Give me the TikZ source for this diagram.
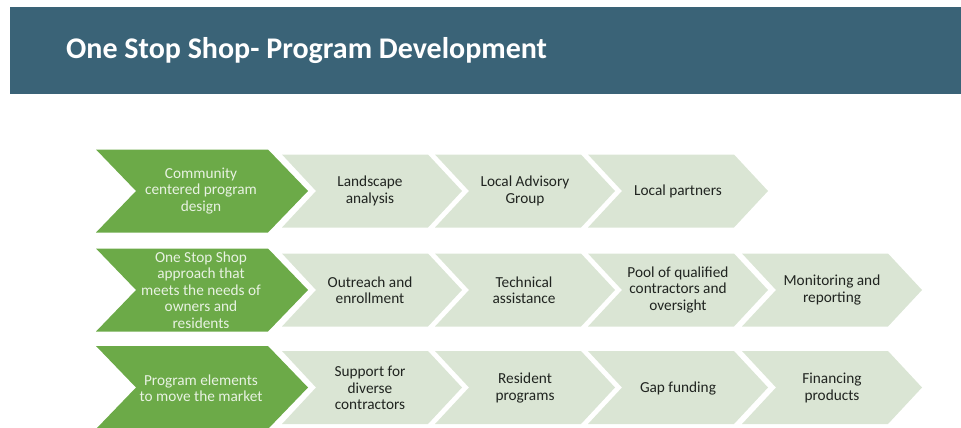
\documentclass[tikz,border=0pt]{standalone}
\usepackage{fontspec}
\setmainfont{Carlito}
\definecolor{barblue}{RGB}{58,99,119}
\definecolor{chevgreen}{RGB}{108,170,72}
\definecolor{chevlight}{RGB}{218,229,212}
\definecolor{greentext}{RGB}{232,242,226}
\definecolor{darktext}{RGB}{32,36,32}
\newcommand\chevshape[6]{%
  \fill[#1] (#2,#3) -- ++(#4,0) -- ++(#6,#5/2) -- ++(-#6,#5/2) -- ++(-#4,0) -- ++(#6,-#5/2) -- cycle;}
\tikzset{
  titletext/.style={text=white,font=\fontsize{30}{34}\selectfont\bfseries,anchor=base west,inner sep=0},
  greenlbl/.style={text=greentext,align=center,font=\fontsize{15.3}{16.4}\selectfont,inner sep=0},
  lightlbl/.style={text=darktext,align=center,font=\fontsize{15.3}{16.4}\selectfont,inner sep=0},
  greenchev/.style={fill=chevgreen},
  lightchev/.style={fill=chevlight}
}
\begin{document}
\begin{tikzpicture}[x=1pt,y=-1pt]
\useasboundingbox (0,0) rectangle (961,428);
\fill[barblue] (10,7) rectangle (961,94);
\node[titletext] (title) at (66,58.5) {One Stop Shop- Program Development};
% row 1 (center 191)
\chevshape{lightchev}{282}{154.5}{146}{73}{34}
\chevshape{lightchev}{435}{154.5}{146}{73}{34}
\chevshape{lightchev}{588}{154.5}{146}{73}{34}
\chevshape{greenchev}{96}{149.5}{172}{83}{40}
% row 2 (center 290)
\chevshape{lightchev}{282}{253.5}{146}{73}{34}
\chevshape{lightchev}{435}{253.5}{146}{73}{34}
\chevshape{lightchev}{588}{253.5}{146}{73}{34}
\chevshape{lightchev}{742}{253.5}{146}{73}{34}
\chevshape{greenchev}{96}{248.5}{172}{83}{40}
% row 3 (center 387.5)
\chevshape{lightchev}{282}{351}{146}{73}{34}
\chevshape{lightchev}{435}{351}{146}{73}{34}
\chevshape{lightchev}{588}{351}{146}{73}{34}
\chevshape{lightchev}{742}{351}{146}{73}{34}
\chevshape{greenchev}{96}{346}{172}{83}{40}
% labels
\node[greenlbl] (g1) at (201,191) {Community\\centered program\\design};
\node[lightlbl] (a1) at (370,191) {Landscape\\analysis};
\node[lightlbl] (b1) at (525,191) {Local Advisory\\Group};
\node[lightlbl] (c1) at (678,191) {Local partners};
\node[greenlbl] (g2) at (201,290) {One Stop Shop\\approach that\\meets the needs of\\owners and\\residents};
\node[lightlbl] (a2) at (370,290) {Outreach and\\enrollment};
\node[lightlbl] (b2) at (524,290) {Technical\\assistance};
\node[lightlbl] (c2) at (678,290) {Pool of qualified\\contractors and\\oversight};
\node[lightlbl] (d2) at (832,290) {Monitoring and\\reporting};
\node[greenlbl] (g3) at (201,388) {Program elements\\to move the market};
\node[lightlbl] (a3) at (370,388) {Support for\\diverse\\contractors};
\node[lightlbl] (b3) at (525,388) {Resident\\programs};
\node[lightlbl] (c3) at (678,388) {Gap funding};
\node[lightlbl] (d3) at (832,388) {Financing\\products};
\end{tikzpicture}
\end{document}
